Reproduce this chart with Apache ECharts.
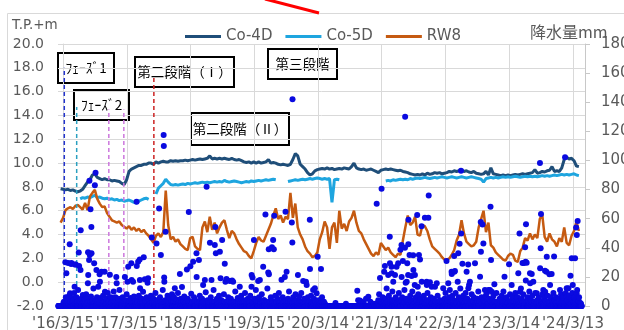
<!DOCTYPE html>
<html>
<head>
<meta charset="utf-8">
<script src="https://cdn.jsdelivr.net/npm/echarts@6/dist/echarts.min.js"></script>
<style>
  html, body { margin: 0; padding: 0; background: #fff; }
  #chart { width: 624px; height: 330px; }
</style>
</head>
<body>
<div id="chart"></div>
<script>
// all x values are days counted from 2016/3/15
const lineStartDay = -14
const lineStepDays = 14

const co4d = [
  7.85, 7.8, 7.75, 7.8, 7.7, 7.75, 7.65, 7.6, 7.65, 7.8, 8.1, 8.4, 8.6,
  9.0, 9.1, 8.8, 8.7, 8.6, 8.7, 8.6, 8.6, 8.5, 8.55, 8.5, 8.45, 8.3,
  8.2, 8.6, 9.3, 9.5, 9.6, 9.7, 9.8, 9.8, 9.9, 9.9, 10.0, 10.0, 9.9,
  10.1, 10.0, 10.1, 10.15, 10.1, 10.1, 10.2, 10.15, 10.2, 10.15, 10.2, 10.2, 10.25,
  10.2, 10.25, 10.3, 10.25, 10.3, 10.35, 10.3, 10.35, 10.4, 10.6, 10.35, 10.4, 10.35,
  10.4, 10.35, 10.4, 10.35, 10.3, 10.4, 10.3, 10.25, 10.3, 10.2, 10.1, 10.05, 10.1,
  10.0, 10.1, 10.0, 10.1, 10.0, 10.05, 10.1, 10.3, 10.0, 10.05, 10.0, 9.9, 9.85,
  9.9, 9.85, 9.8, 9.9, 10.3, 10.8, 10.6, 9.9, 9.7, 9.5, 9.2, 9.0, 9.1,
  9.35, 9.45, 9.5, 9.55, 9.5, 9.6, 9.5, 9.55, 9.45, 9.5, 9.55, 9.5, 9.6,
  9.55, 9.5, 9.7, 10.0, 9.6, 9.5, 9.45, 9.5, 9.4, 9.45, 9.5, 9.4, 9.3,
  9.2, 9.4, 9.45, 9.5, 9.45, 9.5, 9.45, 9.4, 9.35, 9.4, 9.3, 9.25, 9.2,
  9.1, 9.05, 9.0, 9.05, 9.0, 9.1, 9.0, 9.15, 9.05, 9.1, 9.2, 9.15, 9.2,
  9.1, 9.15, 9.2, 9.3, 9.25, 9.35, 9.3, 9.35, 9.4, 9.3, 9.35, 9.25, 9.2,
  9.3, 9.15, 9.1, 9.05, 9.1, 9.3, 9.0, 9.6, 9.1, 9.05, 9.0, 8.95, 9.0,
  8.95, 9.0, 8.95, 9.0, 9.05, 9.0, 9.05, 9.1, 9.05, 9.1, 9.15, 9.2, 9.45,
  9.15, 9.2, 9.3, 9.25, 9.35, 9.4, 9.7, 9.3, 9.35, 9.3, 9.6, 10.3, 10.5,
  10.35, 10.4, 10.2, 9.75, 9.7
]

const co5d = [
  null, null, null, null, null, null, null, null, 7.0, 7.1, 7.05, 7.15, 7.1,
  7.2, 7.3, 7.1, 7.15, 7.05, 7.0, 7.05, 6.95, 7.0, 6.9, 6.95, 6.85, 6.9,
  6.8, 6.85, 6.9, 6.8, 6.7, 6.65, 6.8, 6.9, 7.0, 7.05, 6.95, null, null,
  7.4, 7.9, 8.1, 8.3, 8.65, 8.4, 8.2, 8.15, 8.2, 8.15, 8.2, 8.25, 8.2,
  8.3, 8.25, 8.3, 8.35, 8.3, 8.35, 8.4, 8.35, 8.4, 8.35, 8.4, 8.45, 8.4,
  8.45, 8.4, 8.55, 8.45, 8.4, 8.45, 8.5, 8.45, 8.4, 8.35, 8.4, 8.45, 8.4,
  8.5, 8.45, 8.5, 8.55, 8.5, 8.55, 8.6, 8.55, 8.6, 8.65, 8.6, null, null,
  null, null, 8.45, 8.5, 8.55, 8.6, 8.55, 8.6, 8.65, 8.6, 8.65, 8.7, 8.65,
  8.7, 8.75, 8.7, 8.65, 8.7, 8.65, 8.7, 6.7, 8.6, 8.65, 8.6, null, null,
  null, null, null, null, null, null, null, null, null, null, null, null, null,
  null, null, null, 8.5, 8.55, 8.5, 8.6, 8.55, 8.6, 8.65, 8.6, 8.65, 8.6,
  8.7, 8.65, 8.7, 8.75, 8.7, 8.75, 8.8, 8.75, 8.7, 8.75, 8.8, 8.75, 8.8,
  8.85, 8.8, 8.75, 8.8, 8.85, 8.8, 8.75, 8.8, 8.85, 8.8, 8.75, 8.8, 8.85,
  8.8, 8.75, 8.7, 8.65, 8.4, 8.7, 8.75, 8.8, 8.75, 8.8, 8.75, 8.8, 8.85,
  8.8, 8.85, 8.8, 8.85, 8.9, 8.85, 8.8, 8.85, 8.9, 8.85, 8.9, 8.85, 8.9,
  8.85, 8.9, 8.95, 8.9, 8.95, 8.9, 8.95, 9.0, 8.95, 9.0, 9.05, 9.0, 9.05,
  9.0, 9.05, 9.1, 9.0, 8.95
]

const rw8 = [
  5.0, 5.4, 6.05, 6.2, 6.3, 6.15, 6.4, 6.5, 6.3, 6.1, 6.65, 6.05, 7.2,
  7.5, 7.75, 7.0, 6.6, 6.3, 6.35, 5.8, 5.5, 5.2, 5.1, 5.0, 5.1, 4.8,
  4.65, 4.5, 4.7, 4.4, 4.6, 4.3, 4.5, 4.2, 4.4, 4.1, 3.9, 3.6, 3.3,
  3.9, 4.1, 3.8, 4.2, 7.7, 4.8, 3.6, 3.8, 3.4, 3.6, 3.2, 3.0, 2.8,
  2.7, 3.7, 3.8, 3.0, 2.8, 2.7, 4.6, 5.1, 4.2, 5.5, 4.4, 5.0, 4.1,
  4.6, 5.0, 5.2, 4.4, 3.7, 4.3, 4.1, 3.6, 3.2, 2.9, 2.6, 2.5, 2.2,
  2.0, 2.6, 3.3, 3.8, 3.5, 3.4, 3.9, 4.4, 4.9, 5.6, 6.2, 5.3, 5.6,
  5.0, 5.5, 5.3, 7.5, 5.4, 6.6, 4.6, 4.0, 3.6, 3.0, 2.6, 2.4, 2.1,
  2.2, 2.5, 3.6, 4.2, 5.1, 4.6, 2.8, 4.6, 5.0, 3.3, 6.0, 4.5, 4.9,
  4.3, 5.1, 5.4, 6.0, 5.0, 4.3, 4.1, 3.6, 3.2, 2.8, 2.4, 2.2, 2.5,
  2.3, 3.3, 3.0, 2.7, 2.9, 2.5, 2.3, 2.1, 2.4, 2.3, 3.5, 4.6, 5.6,
  4.8, 5.0, 5.5, 4.0, 3.9, 4.8, 4.7, 4.3, 3.6, 3.0, 2.8, 2.6, 2.4,
  2.1, 1.9, 1.9, 2.0, 2.3, 2.7, 3.5, 4.0, 5.2, 4.1, 3.4, 3.2, 3.0,
  3.1, 3.4, 4.6, 5.3, 6.0, 4.2, 5.0, 3.1, 2.9, 2.5, 2.3, 2.1, 1.9,
  1.8, 2.2, 2.4, 2.3, 1.8, 1.7, 2.6, 2.9, 3.7, 3.5, 4.1, 3.6, 4.0,
  3.7, 5.3, 5.7, 3.8, 3.4, 4.1, 3.6, 3.4, 3.0, 3.7, 3.4, 4.6, 3.3,
  3.1, 3.9, 4.3, 5.1, 4.3
]

// daily rainfall, [day, mm]; days not listed had no rain
const rainBig = [
  [13, 30], [19, 22.5], [29, 29.5], [38, 42.5], [40, 8.7], [46, 28.8], [48, 29.5], [66, 13.3],
  [67, 28.5], [73, 28.5], [90, 36.7], [92, 27.5], [100, 24.7], [101, 52], [142, 15.6], [143, 36.9],
  [144, 21.3], [149, 31.6], [151, 86], [153, 35], [157, 66.5], [162, 54.2], [163, 36.2], [178, 29.3],
  [182, 83], [186, 91.6], [191, 24.7], [201, 13.3], [209, 21.8], [211, 16.7], [220, 23.6], [238, 23.6],
  [240, 9.8], [268, 21.5], [305, 20], [307, 15.6], [354, 20], [369, 16.7], [373, 27], [391, 29.3],
  [393, 17.9], [401, 16.7], [421, 71.6], [422, 27.5], [430, 30.4], [439, 32], [440, 17.9], [441, 12.2],
  [458, 9.8], [462, 33.5], [468, 18.3], [484, 16], [487, 19], [508, 47], [535, 43], [550, 67],
  [560, 35], [576, 117.4], [577, 110], [579, 19.5], [580, 16.7], [587, 51], [640, 12.2], [669, 22],
  [709, 25], [720, 64.5], [729, 27.3], [745, 30.4], [764, 36.2], [765, 20], [778, 31.6], [802, 14.5],
  [812, 17.9], [822, 82], [841, 43.5], [850, 17.9], [869, 41.9], [872, 54.3], [875, 36.2], [898, 37.3],
  [902, 19], [911, 45.3], [926, 29], [930, 16.7], [936, 18.5], [955, 17.2], [968, 17.5], [974, 16.7],
  [1012, 13.3], [1079, 13.3], [1080, 21.3], [1085, 19.5], [1093, 45.3], [1117, 17.2], [1127, 17.9], [1146, 27],
  [1159, 62.8], [1175, 23], [1178, 39], [1179, 21.8], [1196, 40.3], [1203, 45.3], [1207, 39], [1209, 62],
  [1251, 18], [1270, 20], [1274, 64.8], [1280, 23.6], [1310, 57.3], [1313, 43.6], [1314, 142], [1345, 21.3],
  [1375, 17.2], [1391, 16.7], [1395, 14.4], [1413, 59.3], [1414, 25.4], [1432, 11], [1442, 12.2], [1452, 8.7],
  [1458, 33.9], [1477, 25.4], [1685, 10.5], [1700, 3.7], [1710, 3], [1748, 6.4], [1796, 70.3], [1815, 19.3],
  [1824, 80.6], [1839, 23.6], [1843, 27.5], [1862, 21.3], [1871, 47.6], [1872, 29.3], [1881, 27], [1882, 22.5],
  [1891, 16.7], [1901, 21.3], [1910, 27], [1919, 29.3], [1932, 38.7], [1938, 41.9], [1939, 20], [1946, 31],
  [1958, 40], [1959, 130], [1962, 16], [1968, 16.7], [1971, 29.3], [1976, 21.3], [1977, 42.4], [1978, 59.3],
  [1984, 35], [1996, 20.6], [2005, 34.8], [2006, 24.7], [2014, 14.4], [2015, 21.3], [2028, 62.5], [2031, 13.3],
  [2038, 35], [2044, 32], [2053, 54.8], [2054, 16.7], [2072, 60.7], [2082, 16.7], [2083, 14.4], [2092, 60.7],
  [2094, 76], [2101, 16.3], [2111, 13.3], [2130, 13.3], [2140, 15.6], [2177, 12.2], [2196, 31], [2206, 15.6],
  [2225, 23.6], [2226, 22], [2240, 34.3], [2241, 23.6], [2244, 24], [2260, 16.7], [2263, 36.2], [2271, 42.8],
  [2279, 93], [2280, 49.8], [2287, 29], [2311, 23.6], [2320, 28.5], [2321, 12.2], [2325, 14.4], [2330, 16.7],
  [2359, 29.3], [2388, 20.1], [2392, 57.7], [2393, 37.3], [2402, 56], [2407, 43], [2416, 11], [2426, 8.7],
  [2445, 11], [2448, 68.2], [2451, 31.6], [2455, 9.8], [2470, 14.9], [2528, 20.1], [2554, 28.7], [2569, 14.4],
  [2607, 22.5], [2614, 49.8], [2617, 9.8], [2631, 29.5], [2640, 29.5], [2646, 40.3], [2649, 30.4], [2650, 17.5],
  [2651, 56.2], [2655, 29.7], [2674, 22.5], [2675, 15.6], [2684, 22], [2693, 16.7], [2713, 8.7], [2731, 98.2],
  [2732, 25.9], [2735, 39.6], [2737, 63.2], [2750, 11], [2760, 24.3], [2761, 9.8], [2768, 23.6], [2770, 33.9],
  [2785, 21.8], [2789, 14.4], [2798, 22], [2812, 34], [2846, 11], [2875, 102.2], [2884, 12.2], [2885, 6.4],
  [2894, 12.2], [2906, 20.7], [2913, 32.8], [2919, 14.4], [2932, 32.8], [2938, 54], [2941, 8.7], [2942, 48.8],
  [2947, 58.4]
]

const rainSmall = [
  [5, 3], [9, 1.5], [16, 6], [22, 2], [27, 4.5], [33, 1], [35, 7], [43, 3], [51, 5.5], [55, 2],
  [60, 4], [63, 9], [70, 1.5], [77, 6], [82, 3], [86, 11], [95, 2.5], [104, 5], [108, 1], [113, 7.5],
  [118, 3], [123, 4.5], [128, 2], [132, 8], [137, 5], [147, 3], [156, 1.5], [160, 6.5], [166, 2.5], [171, 4],
  [174, 12], [188, 3.5], [194, 6], [197, 2], [204, 4], [215, 5.5], [224, 2], [229, 7], [233, 3], [245, 1.5],
  [250, 5], [256, 9], [262, 3], [273, 6], [279, 2], [284, 4.5], [290, 10], [296, 3], [300, 6], [312, 2],
  [318, 5], [323, 11], [329, 3.5], [335, 1], [341, 6], [347, 2.5], [359, 4], [364, 8], [378, 3], [386, 5.5],
  [396, 2], [406, 6.5], [412, 3], [417, 1.5], [426, 4], [434, 7], [446, 2.5], [451, 5], [474, 3], [479, 6],
  [492, 4], [497, 1.5], [503, 7], [513, 3], [518, 5], [523, 2], [529, 9], [541, 4], [546, 1.5], [555, 6],
  [566, 3], [571, 11], [584, 4], [592, 2], [598, 7], [604, 3], [611, 5.5], [618, 1], [624, 8], [630, 3.5],
  [635, 6], [646, 2], [652, 4.5], [658, 9], [663, 2.5], [675, 5], [681, 13], [688, 3], [694, 6.5], [700, 1.5],
  [714, 5], [724, 3], [734, 8.5], [740, 2], [750, 6], [756, 4], [770, 3], [783, 7], [790, 1.5], [796, 5],
  [806, 3], [817, 9.5], [827, 4], [833, 2], [846, 6], [856, 3], [862, 11], [881, 5], [887, 2], [893, 7],
  [906, 4], [916, 1.5], [921, 8], [941, 3], [946, 6], [950, 2], [961, 5], [980, 3], [986, 10], [993, 2],
  [1000, 5.5], [1006, 3], [1020, 7], [1027, 2], [1035, 4], [1042, 9], [1050, 2.5], [1058, 5], [1065, 3], [1072, 7],
  [1090, 2], [1098, 5], [1104, 11], [1110, 3], [1122, 6], [1132, 2], [1138, 8], [1152, 4], [1165, 2.5], [1170, 12],
  [1184, 3], [1190, 6], [1200, 2], [1215, 7], [1221, 3], [1228, 5], [1236, 9], [1242, 2], [1258, 6], [1263, 3],
  [1288, 5], [1294, 10], [1300, 3], [1318, 6], [1325, 2], [1331, 8], [1338, 4], [1352, 6.5], [1358, 2], [1364, 9],
  [1369, 3], [1381, 5], [1386, 2], [1402, 6], [1407, 3], [1420, 7], [1426, 2], [1437, 5], [1447, 3], [1463, 4],
  [1470, 1.5], [1483, 6], [1490, 2], [1560, 2], [1620, 1.5], [1690, 4], [1722, 2], [1735, 5], [1760, 3], [1780, 1.5],
  [1805, 4], [1810, 8], [1820, 3], [1830, 6], [1835, 2], [1848, 5], [1853, 12], [1858, 3], [1866, 7], [1877, 4],
  [1886, 10], [1895, 3], [1905, 6], [1914, 2], [1923, 9], [1928, 4], [1942, 6], [1951, 3], [1955, 11], [1965, 5],
  [1973, 2], [1988, 7], [1992, 3], [2000, 10], [2010, 4], [2020, 6], [2024, 2], [2034, 8], [2040, 3], [2048, 5],
  [2060, 2], [2066, 7], [2077, 4], [2087, 9], [2097, 3], [2106, 6], [2116, 2], [2122, 5], [2135, 3], [2145, 7],
  [2152, 2], [2160, 4], [2168, 1.5], [2185, 5], [2190, 9], [2200, 3], [2210, 6], [2215, 11], [2220, 3], [2230, 7],
  [2235, 4], [2248, 9], [2254, 3], [2266, 6], [2275, 12], [2283, 4], [2292, 7], [2298, 2], [2305, 9], [2315, 5],
  [2334, 3], [2340, 8], [2346, 4], [2352, 6], [2366, 2], [2372, 5], [2378, 10], [2383, 3], [2397, 6], [2411, 4],
  [2421, 7], [2431, 3], [2436, 11], [2440, 5], [2460, 4], [2465, 7], [2475, 3], [2482, 9], [2490, 2], [2500, 5],
  [2506, 3], [2512, 7], [2518, 2], [2522, 10], [2533, 4], [2540, 6], [2546, 2], [2560, 8], [2565, 3], [2575, 6],
  [2582, 2], [2590, 9], [2596, 4], [2602, 6], [2611, 3], [2622, 12], [2627, 5], [2635, 8], [2660, 6], [2665, 3],
  [2670, 10], [2679, 4], [2688, 7], [2698, 3], [2704, 9], [2718, 4], [2725, 6], [2742, 3], [2746, 8], [2755, 5],
  [2765, 3], [2775, 7], [2780, 2], [2793, 6], [2803, 3], [2808, 9], [2817, 4], [2823, 6], [2830, 2], [2838, 5],
  [2852, 8], [2858, 3], [2864, 6], [2870, 2], [2879, 9], [2889, 4], [2898, 7], [2902, 2], [2910, 5], [2916, 9],
  [2924, 3], [2928, 6], [2935, 4], [2944, 11], [2950, 3], [2955, 6]
]

// light rain days (under ~4 mm), forming the dense band at the bottom
const rainLight = [
  [2, 2], [11, 1], [25, 3], [31, 0.5], [41, 2], [53, 1.5], [58, 3.5], [75, 1], [80, 2.5], [88, 0.5],
  [97, 3], [110, 1.5], [116, 2], [126, 4], [135, 1], [140, 2.5], [158, 3], [169, 1], [180, 2], [184, 0.5],
  [199, 3.5], [207, 1.5], [213, 2], [218, 4], [226, 1], [236, 2.5], [243, 0.5], [248, 3], [253, 1.5], [259, 2],
  [265, 3.5], [271, 1], [276, 2], [282, 0.5], [287, 3], [293, 1.5], [303, 2.5], [310, 1], [315, 3], [321, 0.5],
  [326, 2], [332, 1.5], [338, 4], [344, 1], [350, 2.5], [357, 1], [362, 3], [367, 0.5], [375, 2], [381, 1.5],
  [389, 3.5], [399, 1], [404, 2], [410, 0.5], [415, 3], [424, 1.5], [428, 2.5], [437, 1], [443, 3], [449, 0.5],
  [455, 2], [465, 1.5], [471, 3.5], [477, 1], [482, 2], [490, 0.5], [495, 3], [500, 1.5], [511, 2.5], [516, 1],
  [521, 3], [527, 0.5], [533, 2], [538, 1.5], [544, 4], [552, 1], [558, 2.5], [563, 0.5], [569, 3], [574, 1.5],
  [582, 2], [589, 1], [595, 3.5], [601, 0.5], [608, 2], [614, 1.5], [621, 3], [627, 1], [633, 2.5], [643, 0.5],
  [649, 3], [655, 1.5], [661, 2], [666, 4], [672, 1], [678, 2.5], [685, 0.5], [691, 3], [697, 1.5], [704, 2],
  [711, 1], [717, 3.5], [721, 0.5], [727, 2], [737, 1.5], [743, 3], [748, 1], [753, 2.5], [759, 0.5], [767, 3],
  [773, 1.5], [780, 2], [787, 4], [793, 1], [799, 2.5], [804, 0.5], [809, 3], [815, 1.5], [820, 2], [825, 1],
  [830, 3.5], [836, 0.5], [843, 2], [848, 1.5], [853, 3], [859, 1], [865, 2.5], [878, 0.5], [884, 3], [890, 1.5],
  [896, 2], [904, 4], [909, 1], [914, 2.5], [919, 0.5], [924, 3], [933, 1.5], [939, 2], [944, 1], [953, 3.5],
  [958, 0.5], [964, 2], [971, 1.5], [977, 3], [983, 1], [990, 2.5], [997, 0.5], [1003, 3], [1009, 1.5], [1016, 2],
  [1023, 4], [1030, 1], [1038, 2.5], [1045, 0.5], [1054, 3], [1061, 1.5], [1068, 2], [1076, 1], [1083, 3.5], [1088, 0.5],
  [1095, 2], [1101, 1.5], [1107, 3], [1113, 1], [1119, 2.5], [1125, 0.5], [1130, 3], [1135, 1.5], [1141, 2], [1149, 4],
  [1156, 1], [1162, 2.5], [1168, 0.5], [1173, 3], [1181, 1.5], [1187, 2], [1193, 1], [1198, 3.5], [1205, 0.5], [1212, 2],
  [1218, 1.5], [1224, 3], [1231, 1], [1239, 2.5], [1245, 0.5], [1255, 3], [1261, 1.5], [1266, 2], [1277, 4], [1283, 1],
  [1291, 2.5], [1297, 0.5], [1303, 3], [1307, 1.5], [1316, 2], [1321, 1], [1328, 3.5], [1335, 0.5], [1341, 2], [1348, 1.5],
  [1355, 3], [1361, 1], [1367, 2.5], [1372, 0.5], [1378, 3], [1383, 1.5], [1389, 2], [1398, 4], [1404, 1], [1410, 2.5],
  [1417, 0.5], [1423, 3], [1429, 1.5], [1435, 2], [1440, 1], [1445, 3.5], [1450, 0.5], [1455, 2], [1460, 1.5], [1467, 3],
  [1474, 1], [1480, 2.5], [1486, 0.5], [1494, 3], [1500, 1.5],
  [1802, 2], [1808, 1], [1812, 3], [1818, 0.5], [1826, 2.5], [1833, 1.5], [1841, 3.5], [1846, 1], [1851, 2], [1856, 0.5],
  [1861, 3], [1869, 1.5], [1875, 2.5], [1879, 1], [1884, 4], [1889, 0.5], [1893, 2], [1898, 1.5], [1903, 3], [1908, 1],
  [1912, 2.5], [1917, 0.5], [1921, 3], [1926, 1.5], [1930, 2], [1935, 1], [1940, 3.5], [1944, 0.5], [1949, 2], [1953, 1.5],
  [1957, 3], [1963, 1], [1967, 2.5], [1970, 0.5], [1975, 3], [1980, 1.5], [1986, 2], [1990, 4], [1994, 1], [1998, 2.5],
  [2003, 0.5], [2008, 3], [2012, 1.5], [2018, 2], [2022, 1], [2026, 3.5], [2030, 0.5], [2036, 2], [2042, 1.5], [2046, 3],
  [2051, 1], [2057, 2.5], [2063, 0.5], [2069, 3], [2075, 1.5], [2080, 2], [2085, 4], [2090, 1], [2096, 2.5], [2103, 0.5],
  [2109, 3], [2114, 1.5], [2119, 2], [2126, 1], [2133, 3.5], [2138, 0.5], [2143, 2], [2149, 1.5], [2156, 3], [2163, 1],
  [2172, 2.5], [2181, 0.5], [2188, 3], [2193, 1.5], [2198, 2], [2203, 4], [2208, 1], [2213, 2.5], [2218, 0.5], [2223, 3],
  [2228, 1.5], [2233, 2], [2238, 1], [2246, 3.5], [2251, 0.5], [2257, 2], [2262, 1.5], [2268, 3], [2273, 1], [2278, 2.5],
  [2285, 0.5], [2290, 3], [2295, 1.5], [2301, 2], [2308, 4], [2313, 1], [2318, 2.5], [2323, 0.5], [2328, 3], [2332, 1.5],
  [2337, 2], [2343, 1], [2349, 3.5], [2355, 0.5], [2361, 2], [2369, 1.5], [2375, 3], [2381, 1], [2386, 2.5], [2390, 0.5],
  [2395, 3], [2400, 1.5], [2405, 2], [2409, 4], [2414, 1], [2419, 2.5], [2424, 0.5], [2429, 3], [2434, 1.5], [2438, 2],
  [2443, 1], [2450, 3.5], [2457, 0.5], [2463, 2], [2468, 1.5], [2473, 3], [2479, 1], [2485, 2.5], [2493, 0.5], [2498, 3],
  [2503, 1.5], [2509, 2], [2515, 4], [2520, 1], [2525, 2.5], [2531, 0.5], [2537, 3], [2543, 1.5], [2549, 2], [2555, 1],
  [2562, 3.5], [2567, 0.5], [2572, 2], [2578, 1.5], [2585, 3], [2593, 1], [2599, 2.5], [2605, 0.5], [2609, 3], [2615, 1.5],
  [2620, 2], [2625, 4], [2629, 1], [2633, 2.5], [2638, 0.5], [2643, 3], [2648, 1.5], [2653, 2], [2658, 1], [2663, 3.5],
  [2668, 0.5], [2673, 2], [2677, 1.5], [2682, 3], [2686, 1], [2691, 2.5], [2696, 0.5], [2701, 3], [2707, 1.5], [2712, 2],
  [2716, 4], [2721, 1], [2728, 2.5], [2734, 0.5], [2740, 3], [2745, 1.5], [2752, 2], [2758, 1], [2763, 3.5], [2767, 0.5],
  [2772, 2], [2778, 1.5], [2783, 3], [2787, 1], [2791, 2.5], [2796, 0.5], [2801, 3], [2806, 1.5], [2811, 2], [2815, 4],
  [2820, 1], [2826, 2.5], [2833, 0.5], [2841, 3], [2849, 1.5], [2855, 2], [2861, 1], [2867, 3.5], [2873, 0.5], [2877, 2],
  [2882, 1.5], [2887, 3], [2892, 1], [2896, 2.5], [2900, 0.5], [2905, 3], [2908, 1.5], [2912, 2], [2918, 4], [2922, 1],
  [2926, 2.5], [2931, 0.5], [2936, 3], [2940, 1.5], [2946, 2], [2949, 1], [2953, 3.5], [2958, 0.5], [2962, 2], [2966, 1.5]
]
const rainFirstDay = -27
const rainLastDay = 2970

// x axis: Excel style date axis, one major unit = 365 days
const axisFirstDay = -29
const axisLastDay = 2989
const yearTickDays = [0, 365, 730, 1095, 1460, 1825, 2190, 2555, 2920]

// construction phase markers
const phaseDays = [7, 78, 262, 348, 520]
const phaseTops = [18.0, 14.7, 14.5, 14.5, 17.4]
const phaseColors = ['#2233cc', '#2aa0c0', '#cc77dd', '#cc77dd', '#cc2222']

const baseDate = Date.UTC(2016, 2, 15)
const fmtDay = (d) => {
  const dt = new Date(baseDate + d * 86400000)
  return "'" + String(dt.getUTCFullYear()).slice(2) + '/' + (dt.getUTCMonth() + 1) + '/' + dt.getUTCDate()
}

const toLine = (vals) => vals.map((v, i) => [lineStartDay + i * lineStepDays, v])

const rainByDay = {}
rainLight.forEach(([d, v]) => { rainByDay[d] = v })
rainSmall.forEach(([d, v]) => { rainByDay[d] = v })
rainBig.forEach(([d, v]) => { rainByDay[d] = v })
const rainData = []
for (let d = rainFirstDay; d <= rainLastDay; d++) {
  rainData.push([d, rainByDay[d] !== undefined ? rainByDay[d] : 0])
}

const grey = '#595959'
const gridGrey = '#d9d9d9'

const noteBox = (text, x, y, w, h) => ({
  type: 'group',
  children: [
    { type: 'rect', shape: { x: x, y: y, width: w, height: h },
      style: { fill: 'rgba(255,255,255,0)', stroke: '#000', lineWidth: 2 } },
    { type: 'text', x: x + w / 2, y: y + h / 2,
      style: { text: text, fill: '#000', font: '13.5px "Noto Sans CJK JP"', align: 'center', verticalAlign: 'middle' } }
  ]
})

const chart = echarts.init(document.getElementById('chart'))

const option = {
  animation: false,
  textStyle: { fontFamily: 'DejaVu Sans' },
  grid: { left: 58, right: 39, top: 44, bottom: 24, outerBoundsMode: 'none' },
  legend: {
    data: ['Co-4D', 'Co-5D', 'RW8'],
    left: 180,
    top: 24,
    icon: 'rect',
    itemWidth: 36,
    itemHeight: 3,
    itemGap: 13,
    textStyle: { fontSize: 15, color: grey, fontFamily: 'DejaVu Sans' }
  },
  graphic: [
    { type: 'rect', z: -10, shape: { x: 7.5, y: 13.5, width: 700, height: 400 },
      style: { fill: 'none', stroke: gridGrey, lineWidth: 1 } },
    { type: 'line', shape: { x1: 265, y1: -1, x2: 319, y2: 13 },
      style: { stroke: '#ff0000', lineWidth: 3 } },
    { type: 'text', x: 12, y: 25,
      style: { text: 'T.P.+m', fill: grey, font: '13.5px "DejaVu Sans"', verticalAlign: 'middle' } },
    { type: 'text', x: 530, y: 32,
      style: { text: '降水量mm', fill: grey, font: '16px "Noto Sans CJK JP"', verticalAlign: 'middle' } },
    noteBox('ﾌｪｰｽﾞ1', 58, 53, 56, 30),
    noteBox('ﾌｪｰｽﾞ2', 74, 90, 55, 30),
    noteBox('第二段階（Ⅰ）', 135, 57, 99, 30),
    noteBox('第三段階', 268, 49, 69, 30),
    noteBox('第二段階（Ⅱ）', 191, 113, 98, 32)
  ],
  xAxis: {
    type: 'value',
    min: axisFirstDay,
    max: axisLastDay,
    axisLine: { show: false },
    axisTick: { show: false, customValues: yearTickDays },
    axisLabel: {
      customValues: yearTickDays,
      formatter: (v) => fmtDay(v),
      fontSize: 15,
      color: grey,
      margin: 11
    },
    splitLine: { show: true, lineStyle: { color: gridGrey, width: 1 } }
  },
  yAxis: [
    {
      type: 'value',
      min: -2,
      max: 20,
      interval: 2,
      axisLine: { show: true, lineStyle: { color: gridGrey } },
      axisTick: { show: false },
      axisLabel: { formatter: (v) => v.toFixed(1), fontSize: 14, color: grey, margin: 14 },
      splitLine: { lineStyle: { color: gridGrey, width: 1 } }
    },
    {
      type: 'value',
      position: 'right',
      min: 0,
      max: 180,
      interval: 20,
      axisLine: { show: true, lineStyle: { color: '#c8c8c8' } },
      axisTick: { show: true, length: 5, lineStyle: { color: '#c8c8c8' } },
      axisLabel: { fontSize: 15, color: grey, margin: 16 },
      splitLine: { show: false }
    }
  ],
  series: [
    {
      name: 'Co-4D', type: 'line', data: toLine(co4d), symbol: 'none', color: '#1f4e79',
      lineStyle: { width: 3, color: '#1f4e79' }, z: 3
    },
    {
      name: 'Co-5D', type: 'line', data: toLine(co5d), symbol: 'none', color: '#1ea5df',
      lineStyle: { width: 3, color: '#1ea5df' }, z: 3
    },
    {
      name: 'RW8', type: 'line', data: toLine(rw8), symbol: 'none', color: '#c55a11',
      lineStyle: { width: 2.5, color: '#c55a11' }, z: 3
    },
    ...phaseDays.map((d, k) => ({
      name: 'phase' + (k + 1),
      type: 'line',
      data: [[d, -2], [d, phaseTops[k]]],
      symbol: 'none',
      silent: true,
      lineStyle: { color: phaseColors[k], width: 1.5, type: [4, 3] },
      z: 4
    })),
    {
      name: '降水量',
      type: 'scatter',
      yAxisIndex: 1,
      data: rainData,
      symbolSize: 6,
      progressive: 0,
      itemStyle: { color: '#0a0ae0', opacity: 1 },
      z: 5
    }
  ]
}

chart.setOption(option)
</script>
</body>
</html>
